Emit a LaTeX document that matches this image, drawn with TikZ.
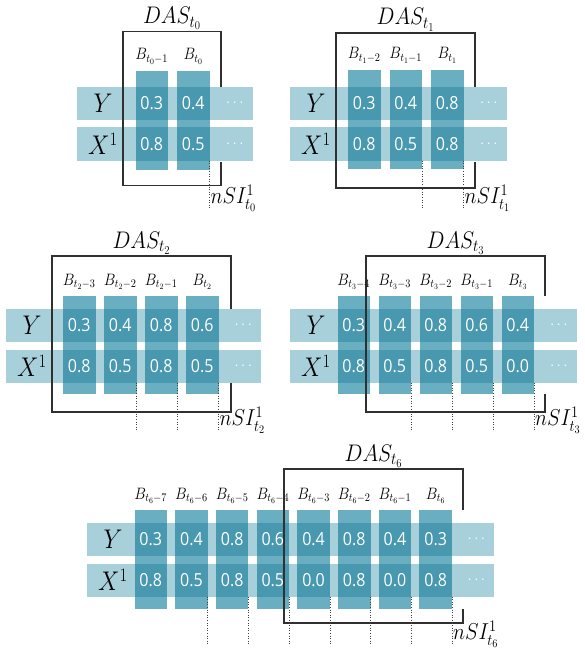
\RequirePackage{fix-cm}
\documentclass[tikz,border=0pt]{standalone}
\usepackage{fontspec}
\usepackage{graphicx}
\newfontfamily\valfont{Open Sans}

\definecolor{rowc}{HTML}{A8D0DB}
\definecolor{colc}{HTML}{6AAFC1}
\definecolor{cellc}{HTML}{4898AF}
\definecolor{framec}{HTML}{303030}

% glyphs are set slightly narrow
\newcommand\narrow[1]{\scalebox{0.89}[1]{#1}}

\tikzset{
  rowband/.style={fill=rowc},
  colband/.style={fill=colc},
  cellband/.style={fill=cellc},
  dasframe/.style={draw=framec, line width=1.1pt},
  cutline/.style={draw=black!75, dotted, line width=0.6pt},
  valtext/.style={text=white, inner sep=0pt, font=\valfont\fontsize{18}{18}\selectfont},
  moretext/.style={text=white, inner sep=0pt, font=\fontsize{15}{15}\selectfont},
  blabel/.style={anchor=base, inner sep=0pt, font=\fontsize{16.5}{16.5}\selectfont},
  varlabel/.style={inner sep=0pt, font=\fontsize{27}{27}\selectfont},
  daslabel/.style={anchor=base, inner sep=0pt, font=\fontsize{24}{24}\selectfont},
  nsilabel/.style={anchor=base west, inner sep=0pt, font=\fontsize{23}{23}\selectfont},
}

% cell width and row height
\def\pW{32.5}
\def\pH{33}

% geometry: id, row start, first column x, column pitch, columns, Y-row top, column top, column bottom
\newcommand\panelgeom[8]{\def\pid{#1}\def\pRx{#2}\def\pCx{#3}\def\pP{#4}\def\pN{#5}\def\pYt{#6}\def\pCt{#7}\def\pCb{#8}}
% frame: left, top, right, bottom; hidden span of its right side: top, bottom
\newcommand\panelframe[6]{\def\pFl{#1}\def\pFt{#2}\def\pFr{#3}\def\pFb{#4}\def\pHt{#5}\def\pHb{#6}}
% time index, Y values, X values
\newcommand\panelvals[3]{\def\pS{#1}\def\pYv{#2}\def\pXv{#3}}

\newcommand\drawpanel{%
  \pgfmathsetmacro\pXt{\pYt+40.5}%
  \pgfmathsetmacro\pEx{\pCx+\pN*\pP}%
  \pgfmathsetmacro\pRe{\pEx+\pW+1.5}%
  \pgfmathsetmacro\pMid{(\pFl+\pFr)/2}%
  % row bands
  \fill[rowband] (\pRx,\pYt) rectangle (\pEx,{\pYt+\pH});
  \fill[rowband] (\pRx,\pXt) rectangle (\pEx,{\pXt+\pH});
  % time-step columns
  \foreach \i in {1,...,\pN}{%
    \pgfmathsetmacro\cx{\pCx+(\i-1)*\pP}%
    \fill[colband] (\cx,\pCt) rectangle ({\cx+\pW},\pCb);
    \fill[cellband] (\cx,\pYt) rectangle ({\cx+\pW},{\pYt+\pH});
    \fill[cellband] (\cx,\pXt) rectangle ({\cx+\pW},{\pXt+\pH});
  }
  % window frame
  \draw[dasframe] (\pFl,\pFt) rectangle (\pFr,\pFb);
  % continuation column
  \fill[white] (\pEx,\pHt) rectangle ({\pEx+\pW},\pHb);
  \fill[rowband] ({\pEx-0.5},\pYt) rectangle (\pRe,{\pYt+\pH});
  \fill[rowband] ({\pEx-0.5},\pXt) rectangle (\pRe,{\pXt+\pH});
  \node[moretext] (\pid-ymore) at ({\pEx+\pW/2},{\pYt+\pH/2}) {$\cdots$};
  \node[moretext] (\pid-xmore) at ({\pEx+\pW/2},{\pXt+\pH/2}) {$\cdots$};
  % values
  \foreach \v [count=\i] in \pYv{%
    \pgfmathsetmacro\cx{\pCx+(\i-1)*\pP+\pW/2}%
    \node[valtext] (\pid-y\i) at (\cx,{\pYt+\pH/2}) {\narrow{\v}};
  }
  \foreach \v [count=\i] in \pXv{%
    \pgfmathsetmacro\cx{\pCx+(\i-1)*\pP+\pW/2}%
    \node[valtext] (\pid-x\i) at (\cx,{\pXt+\pH/2}) {\narrow{\v}};
  }
  % column labels
  \foreach \i in {1,...,\pN}{%
    \pgfmathsetmacro\cx{\pCx+(\i-1)*\pP+\pW/2}%
    \pgfmathtruncatemacro\k{\pN-\i}%
    \ifnum\k=0
      \node[blabel] (\pid-b\i) at (\cx,{\pCt-11}) {\narrow{$B_{t_{\pS}}$}};
    \else
      \node[blabel] (\pid-b\i) at (\cx,{\pCt-11}) {\narrow{$B_{t_{\pS}-\k}$}};
    \fi
  }
  % variable names
  \node[varlabel] (\pid-Y) at ({\pRx+26},{\pYt+\pH/2}) {\narrow{$Y$}};
  \node[varlabel] (\pid-X) at ({\pRx+26},{\pXt+\pH/2}) {\narrow{$X^1$}};
  % window title
  \node[daslabel] (\pid-das) at (\pMid,{\pFt-8}) {\narrow{$DAS_{t_{\pS}}$}};
  % cut lines below the columns
  \foreach \i in {2,...,\pN}{%
    \pgfmathsetmacro\cx{\pCx+(\i-1)*\pP+\pW}%
    \coordinate (\pid-cut\i-a) at (\cx,{\pXt+\pH});
    \coordinate (\pid-cut\i-b) at (\cx,{\pXt+\pH+48});
    \draw[cutline] (\pid-cut\i-a) -- (\pid-cut\i-b);
  }
  \pgfmathsetmacro\cx{\pCx+(\pN-1)*\pP+\pW}%
  \node[nsilabel] (\pid-nsi) at ({\cx+1},{\pXt+\pH+43}) {\narrow{$nSI^1_{t_{\pS}}$}};
}

\begin{document}
\begin{tikzpicture}[x=1pt,y=-1pt]
  \useasboundingbox (0,0) rectangle (585,650);

  % t0
  \panelgeom{a}{77}{135.5}{41.5}{2}{87}{71}{169.5}
  \panelframe{123}{31.5}{221}{185.5}{87}{161.5}
  \panelvals{0}{0.3,0.4}{0.8,0.5}
  \drawpanel

  % t1
  \panelgeom{b}{290}{348}{41.5}{3}{87}{70}{169}
  \panelframe{336}{33}{475}{188}{87}{161.5}
  \panelvals{1}{0.3,0.4,0.8}{0.8,0.5,0.8}
  \drawpanel

  % t2
  \panelgeom{c}{6}{63}{41}{4}{309}{296}{394}
  \panelframe{52}{256}{231}{412}{309}{382.5}
  \panelvals{2}{0.3,0.4,0.8,0.6}{0.8,0.5,0.8,0.5}
  \drawpanel

  % t3
  \panelgeom{d}{290}{337.5}{41}{5}{309}{296}{394}
  \panelframe{366}{256}{545}{412}{296}{394}
  \panelvals{3}{0.3,0.4,0.8,0.6,0.4}{0.8,0.5,0.8,0.5,0.0}
  \drawpanel

  % t6
  \panelgeom{e}{87}{134.5}{40.7}{8}{523}{510}{609}
  \panelframe{284}{469}{463}{623}{510}{609}
  \panelvals{6}{0.3,0.4,0.8,0.6,0.4,0.8,0.4,0.3}{0.8,0.5,0.8,0.5,0.0,0.8,0.0,0.8}
  \drawpanel
\end{tikzpicture}
\end{document}
